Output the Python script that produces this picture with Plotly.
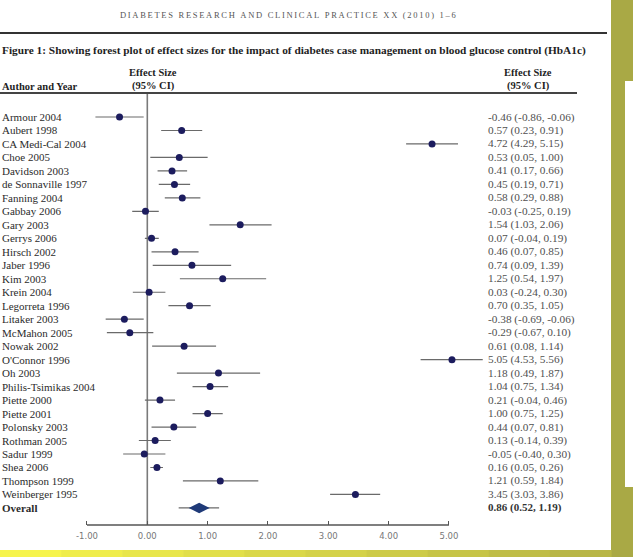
import plotly.graph_objects as go

W, H = 633, 557

studies = ["Armour 2004", "Aubert 1998", "CA Medi-Cal 2004", "Choe 2005", "Davidson 2003",
           "de Sonnaville 1997", "Fanning 2004", "Gabbay 2006", "Gary 2003", "Gerrys 2006",
           "Hirsch 2002", "Jaber 1996", "Kim 2003", "Krein 2004", "Legorreta 1996",
           "Litaker 2003", "McMahon 2005", "Nowak 2002", "O'Connor 1996", "Oh 2003",
           "Philis-Tsimikas 2004", "Piette 2000", "Piette 2001", "Polonsky 2003", "Rothman 2005",
           "Sadur 1999", "Shea 2006", "Thompson 1999", "Weinberger 1995"]
effect = [-0.46, 0.57, 4.72, 0.53, 0.41, 0.45, 0.58, -0.03, 1.54, 0.07,
          0.46, 0.74, 1.25, 0.03, 0.70, -0.38, -0.29, 0.61, 5.05, 1.18,
          1.04, 0.21, 1.00, 0.44, 0.13, -0.05, 0.16, 1.21, 3.45]
ci_low = [-0.86, 0.23, 4.29, 0.05, 0.17, 0.19, 0.29, -0.25, 1.03, -0.04,
          0.07, 0.09, 0.54, -0.24, 0.35, -0.69, -0.67, 0.08, 4.53, 0.49,
          0.75, -0.04, 0.75, 0.07, -0.14, -0.40, 0.05, 0.59, 3.03]
ci_high = [-0.06, 0.91, 5.15, 1.00, 0.66, 0.71, 0.88, 0.19, 2.06, 0.19,
           0.85, 1.39, 1.97, 0.30, 1.05, -0.06, 0.10, 1.14, 5.56, 1.87,
           1.34, 0.46, 1.25, 0.81, 0.39, 0.30, 0.26, 1.84, 3.86]
overall_label = "Overall"
overall_effect = 0.86
overall_low = 0.52
overall_high = 1.19
tick_values = [-1, 0, 1, 2, 3, 4, 5]

header_text = "DIABETES RESEARCH AND CLINICAL PRACTICE XX (2010) 1\u20136"
title_text = ("Figure 1: Showing forest plot of effect sizes for the impact of diabetes "
              "case management on blood glucose control (HbA1c)")


def px(x):
    return x / W


def py(y):
    return 1 - y / H


# pixel geometry
x0_px, scale = 147.3, 60.33
xr = [-1.5, 6.0]
row0_px, row_step = 117.0, 13.48
ytop_px, ybot_px = 93.0, 525.0
yr = [(ybot_px - row0_px) / row_step, (ytop_px - row0_px) / row_step]

n = len(studies)
rows = list(range(n))
fmt = lambda v: f"{v:.2f}"

fig = go.Figure()
fig.add_trace(go.Scatter(
    x=effect, y=rows, mode="markers",
    marker=dict(size=7, color="#1c1c5e"),
    error_x=dict(type="data", symmetric=False,
                 array=[h - e for h, e in zip(ci_high, effect)],
                 arrayminus=[e - l for e, l in zip(effect, ci_low)],
                 width=0, color="#6a6a6a", thickness=1.2),
    cliponaxis=False, hoverinfo="skip"))
fig.add_trace(go.Scatter(
    x=[overall_effect], y=[n], mode="markers",
    marker=dict(size=15, symbol="diamond-wide", color="#1f3a78"),
    error_x=dict(type="data", symmetric=False,
                 array=[overall_high - overall_effect],
                 arrayminus=[overall_effect - overall_low],
                 width=0, color="#6a6a6a", thickness=1.2),
    cliponaxis=False, hoverinfo="skip"))

ann = []
label_font = dict(family="Liberation Serif", size=11, color="#2b2b2b")
val_font = dict(family="Liberation Serif", size=11.3, color="#505050")
for i, s in enumerate(studies):
    ann.append(dict(x=0, xref="paper", y=i, yref="y", text=s, showarrow=False,
                    xanchor="left", yanchor="middle", font=label_font))
    ann.append(dict(x=px(486), xref="paper", y=i, yref="y",
                    text=f"{fmt(effect[i])} ({fmt(ci_low[i])}, {fmt(ci_high[i])})",
                    showarrow=False, xanchor="left", yanchor="middle", font=val_font))
ann.append(dict(x=0, xref="paper", y=n, yref="y", text=f"<b>{overall_label}</b>",
                showarrow=False, xanchor="left", yanchor="middle", font=label_font))
ann.append(dict(x=px(486), xref="paper", y=n, yref="y",
                text=f"<b>{fmt(overall_effect)} ({fmt(overall_low)}, {fmt(overall_high)})</b>",
                showarrow=False, xanchor="left", yanchor="middle",
                font=dict(family="Liberation Serif", size=11, color="#333")))

hdr_font = dict(family="Liberation Serif", size=10.5, color="#1e1e1e")
ann += [
    dict(x=px(288), y=py(15), xref="paper", yref="paper", text="\u2009".join(header_text),
         showarrow=False, xanchor="center", yanchor="middle",
         font=dict(family="Liberation Serif", size=8.5, color="#555")),
    dict(x=0, y=py(51), xref="paper", yref="paper", text=f"<b>{title_text}</b>",
         showarrow=False, xanchor="left", yanchor="middle",
         font=dict(family="Liberation Serif", size=11.3, color="#1e1e1e")),
    dict(x=px(153), y=py(73), xref="paper", yref="paper", text="<b>Effect Size</b>",
         showarrow=False, xanchor="center", yanchor="middle", font=hdr_font),
    dict(x=px(153), y=py(86), xref="paper", yref="paper", text="<b>(95% CI)</b>",
         showarrow=False, xanchor="center", yanchor="middle", font=hdr_font),
    dict(x=0, y=py(86), xref="paper", yref="paper", text="<b>Author and Year</b>",
         showarrow=False, xanchor="left", yanchor="middle", font=hdr_font),
    dict(x=px(528), y=py(73), xref="paper", yref="paper", text="<b>Effect Size</b>",
         showarrow=False, xanchor="center", yanchor="middle", font=hdr_font),
    dict(x=px(528), y=py(86), xref="paper", yref="paper", text="<b>(95% CI)</b>",
         showarrow=False, xanchor="center", yanchor="middle", font=hdr_font),
]

shapes = [
    # top rule and header rule
    dict(type="line", xref="paper", yref="paper", x0=0, x1=px(607), y0=py(33), y1=py(33),
         line=dict(color="#333", width=2)),
    dict(type="line", xref="paper", yref="paper", x0=0, x1=px(577), y0=py(93), y1=py(93),
         line=dict(color="#444", width=2)),
    # zero line
    dict(type="line", xref="x", yref="paper", x0=0, x1=0, y0=py(ybot_px), y1=py(ytop_px),
         line=dict(color="#7a7a7a", width=1.6), layer="below"),
    # x axis line
    dict(type="line", xref="x", yref="paper", x0=-1, x1=5, y0=py(ybot_px), y1=py(ybot_px),
         line=dict(color="#555", width=1.3)),
    # olive page border
    dict(type="rect", xref="paper", yref="paper", x0=px(611), x1=1, y0=0, y1=1,
         fillcolor="#a9a945", line=dict(width=0)),
    dict(type="rect", xref="paper", yref="paper", x0=px(625), x1=1, y0=py(487), y1=py(81),
         fillcolor="#ffffff", line=dict(width=0)),
]
# bottom yellow strip, bright at left fading to olive at right
c0, c1 = (246, 244, 76), (184, 182, 70)
nseg = 10
for k in range(nseg):
    t = k / (nseg - 1)
    col = tuple(round(a + (b - a) * t) for a, b in zip(c0, c1))
    shapes.append(dict(type="rect", xref="paper", yref="paper",
                       x0=px(611 * k / nseg), x1=px(611 * (k + 1) / nseg) + 0.001,
                       y0=0, y1=py(550), fillcolor="rgb(%d,%d,%d)" % col, line=dict(width=0)))

fig.update_layout(
    width=W, height=H, margin=dict(l=0, r=0, t=0, b=0), autosize=False,
    paper_bgcolor="white", plot_bgcolor="white", showlegend=False,
    xaxis=dict(domain=[px(x0_px + xr[0] * scale), px(x0_px + xr[1] * scale)], range=xr,
               showline=False, showgrid=False, zeroline=False,
               tickvals=tick_values, ticktext=[fmt(v) for v in tick_values],
               ticks="inside", ticklen=4, tickcolor="#555", tickwidth=1,
               ticklabelstandoff=4,
               tickfont=dict(family="DejaVu Sans", size=8.5, color="#777"),
               fixedrange=True),
    yaxis=dict(domain=[py(ybot_px), py(ytop_px)], range=yr, visible=False, fixedrange=True),
    annotations=ann, shapes=shapes,
)

fig.write_html("out.html", config={"displayModeBar": False},
               post_script="document.body.style.margin='0';")
